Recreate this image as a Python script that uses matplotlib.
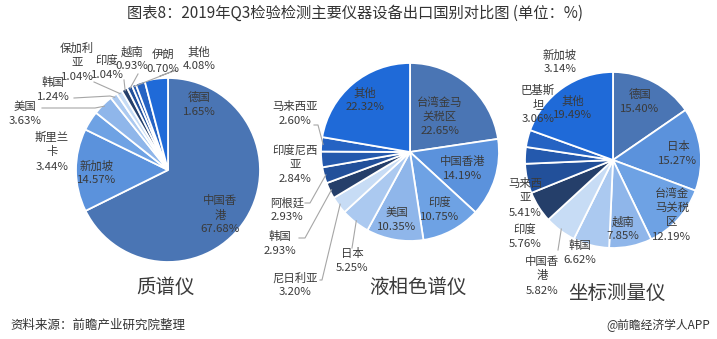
import numpy as np
import matplotlib
matplotlib.use("Agg")
from matplotlib import pyplot as plt

plt.rcParams['font.family'] = ['Noto Sans CJK SC', 'DejaVu Sans']

# 质谱仪
ms_names = ["中国香港", "新加坡", "斯里兰卡", "美国", "韩国", "保加利亚", "印度", "越南", "伊朗", "德国", "其他"]
ms_vals = [67.68, 14.57, 3.44, 3.63, 1.24, 1.04, 1.04, 0.93, 0.70, 1.65, 4.08]

# 液相色谱仪
lc_names = ["台湾金马关税区", "中国香港", "印度", "美国", "日本", "尼日利亚", "韩国", "阿根廷", "印度尼西亚", "马来西亚", "其他"]
lc_vals = [22.65, 14.19, 10.75, 10.35, 5.25, 3.20, 2.93, 2.93, 2.84, 2.60, 22.32]

# 坐标测量仪
cm_names = ["德国", "日本", "台湾金马关税区", "越南", "韩国", "中国香港", "印度", "马来西亚", "巴基斯坦", "新加坡", "其他"]
cm_vals = [15.40, 15.27, 12.19, 7.85, 6.62, 5.82, 5.76, 5.41, 3.06, 3.14, 19.49]

colors = ['#4a75b4', '#5b92dc', '#6ea2e4', '#8fb6ea', '#abc9f0', '#c7dcf5',
          '#253f6a', '#22509a', '#2459ad', '#2563c3', '#1f6ad8']

W, H = 717, 339
fig = plt.figure(figsize=(W / 100, H / 100), dpi=100)
fig.patch.set_facecolor('white')

# overlay en pixeles para textos y lineas guia
ov = fig.add_axes([0, 0, 1, 1], zorder=5)
ov.set_xlim(0, W)
ov.set_ylim(H, 0)
ov.axis('off')

txt = '#3a3a3a'
lc = '#a6a6a6'


def pie(vals, cx, cy, r):
    ax = fig.add_axes([(cx - r) / W, 1 - (cy + r) / H, 2 * r / W, 2 * r / H])
    wedges, _ = ax.pie(vals, colors=colors, startangle=90, counterclock=False,
                       wedgeprops=dict(edgecolor='white', linewidth=1.3))
    ax.set_xlim(-1, 1)
    ax.set_ylim(-1, 1)
    ax.axis('off')
    return wedges


def edge(w, cx, cy, r, k=0.98):
    t = np.deg2rad((w.theta1 + w.theta2) / 2)
    return cx + k * r * np.cos(t), cy - k * r * np.sin(t)


def lab(x, y, lines, size=8.2, dy=14.5):
    y0 = y - dy * (len(lines) - 1) / 2
    for i, s in enumerate(lines):
        ov.text(x, y0 + i * dy, s, ha='center', va='center', fontsize=size, color=txt)


def guide(pts):
    xs, ys = zip(*pts)
    ov.plot(xs, ys, color=lc, lw=0.8)


def pct(v):
    return "%.2f%%" % v


# pie 1
c1 = (168, 170, 92)
w1 = pie(ms_vals, *c1)
p1 = {
    "中国香港": (220, 215, ["中国香", "港", None]),
    "新加坡": (97, 173, ["新加坡", None]),
    "斯里兰卡": (52, 152, ["斯里兰", "卡", None]),
    "美国": (25, 114, ["美国", None]),
    "韩国": (53, 90, ["韩国", None]),
    "保加利亚": (77, 63, ["保加利", "亚", None]),
    "印度": (107, 68, ["印度", None]),
    "越南": (132, 59, ["越南", None]),
    "伊朗": (163, 62, ["伊朗", None]),
    "德国": (199, 105, ["德国", None]),
    "其他": (199, 59, ["其他", None]),
}
for n, v in zip(ms_names, ms_vals):
    x, y, ls = p1[n]
    lab(x, y, [pct(v) if s is None else s for s in ls])
g1 = {"美国": [(42, 108), (95, 108)], "韩国": [(74, 98), (110, 96)],
      "保加利亚": [(94, 82)], "印度": [(124, 80)], "越南": [(138, 74)],
      "伊朗": [(160, 76), (176, 70)]}
for n, pts in g1.items():
    guide(pts + [edge(w1[ms_names.index(n)], *c1)])
ov.text(166, 287, "质谱仪", ha='center', va='center', fontsize=14, color=txt)

# pie 2
c2 = (410, 152, 89)
w2 = pie(lc_vals, *c2)
p2 = {
    "台湾金马关税区": (440, 117, ["台湾金马", "关税区", None]),
    "中国香港": (463, 169, ["中国香港", None]),
    "印度": (440, 210, ["印度", None]),
    "美国": (397, 220, ["美国", None]),
    "日本": (352, 261, ["日本", None]),
    "尼日利亚": (295, 285, ["尼日利亚", None]),
    "韩国": (280, 244, ["韩国", None]),
    "阿根廷": (287, 210, ["阿根廷", None]),
    "印度尼西亚": (295, 165, ["印度尼西", "亚", None]),
    "马来西亚": (295, 114, ["马来西亚", None]),
    "其他": (365, 100, ["其他", None]),
}
for n, v in zip(lc_names, lc_vals):
    x, y, ls = p2[n]
    lab(x, y, [pct(v) if s is None else s for s in ls])
g2 = {"马来西亚": [(314, 125), (318, 125)], "阿根廷": [(305, 203), (310, 203)],
      "韩国": [(299, 238), (305, 238)], "尼日利亚": [(320, 280), (322, 280)],
      "日本": [(352, 248)]}
for n, pts in g2.items():
    guide(pts + [edge(w2[lc_names.index(n)], *c2)])
ov.text(418, 287, "液相色谱仪", ha='center', va='center', fontsize=14, color=txt)

# pie 3
c3 = (613, 160, 88)
w3 = pie(cm_vals, *c3)
p3 = {
    "德国": (640, 102, ["德国", None]),
    "日本": (678, 154, ["日本", None]),
    "台湾金马关税区": (672, 215, ["台湾金", "马关税", "区", None]),
    "越南": (623, 229, ["越南", None]),
    "韩国": (580, 253, ["韩国", None]),
    "中国香港": (542, 276, ["中国香", "港", None]),
    "印度": (525, 237, ["印度", None]),
    "马来西亚": (525, 198, ["马来西", "亚", None]),
    "巴基斯坦": (538, 105, ["巴基斯", "坦", None]),
    "新加坡": (560, 62, ["新加坡", None]),
    "其他": (573, 108, ["其他", None]),
}
for n, v in zip(cm_names, cm_vals):
    x, y, ls = p3[n]
    lab(x, y, [pct(v) if s is None else s for s in ls])
g3 = {"中国香港": [(558, 250)]}
for n, pts in g3.items():
    guide(pts + [edge(w3[cm_names.index(n)], *c3)])
ov.text(617, 293, "坐标测量仪", ha='center', va='center', fontsize=14, color=txt)

# titulo y pie de pagina
ov.text(355, 13, "图表8：2019年Q3检验检测主要仪器设备出口国别对比图 (单位：%)",
        ha='center', va='center', fontsize=11, color='#333333')
ov.text(10, 325, "资料来源：前瞻产业研究院整理", ha='left', va='center', fontsize=9, color='#333333')
ov.text(710, 325, "@前瞻经济学人APP", ha='right', va='center', fontsize=8.5, color='#333333')

fig.savefig("out.png", dpi=100)
